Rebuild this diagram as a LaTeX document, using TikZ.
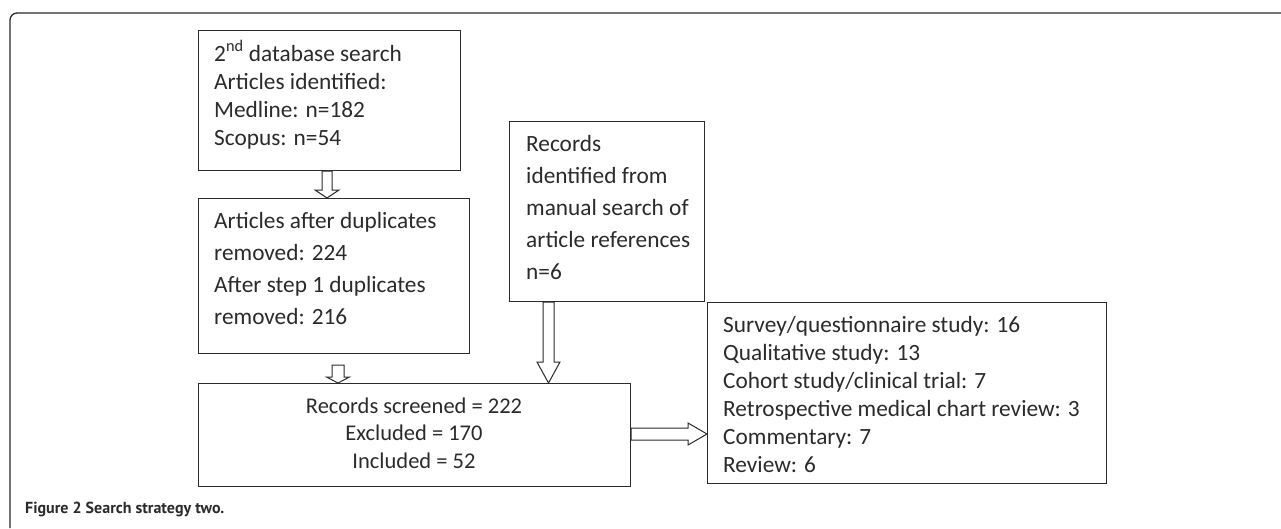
\documentclass[tikz,border=0pt]{standalone}
\usepackage{fontspec}
\setmainfont{Carlito}
\newfontfamily\capfont{PT Sans}
\usetikzlibrary{calc}
\definecolor{ink}{HTML}{2B2B2B}
\newcommand\blockdown[5]{% start, end, shaft half width, head half width, head length
  \draw[blk] ($(#1)+(-#3,0)$) -- ($(#2)+(-#3,-#5)$) -- ($(#2)+(-#4,-#5)$) -- (#2)
    -- ($(#2)+(#4,-#5)$) -- ($(#2)+(#3,-#5)$) -- ($(#1)+(#3,0)$) -- cycle;}
\newcommand\blockright[5]{%
  \draw[blk] ($(#1)+(0,-#3)$) -- ($(#2)+(-#5,-#3)$) -- ($(#2)+(-#5,-#4)$) -- (#2)
    -- ($(#2)+(-#5,#4)$) -- ($(#2)+(-#5,#3)$) -- ($(#1)+(0,#3)$) -- cycle;}
\begin{document}
\begin{tikzpicture}[x=1pt,y=-1pt,
  box/.style={draw=ink, line width=1pt, inner sep=0pt, anchor=north west},
  txt/.style={anchor=base west, inner sep=0pt, align=left, text=ink},
  blk/.style={draw=ink, line width=1pt, fill=white, line join=miter},
  frame/.style={draw=ink, line width=1.3pt, rounded corners=7pt}]
\useasboundingbox (0,0) rectangle (1281,528);
\fill[white] (0,0) rectangle (1281,528);
\draw[frame] (10,528) -- (10,13) -- (1281,13);

\node[box, minimum width=262pt, minimum height=140pt] (b1) at (198,30) {};
\node[box, minimum width=271pt, minimum height=155pt] (b2) at (198,198) {};
\node[box, minimum width=195pt, minimum height=180pt] (b3) at (509,121) {};
\node[box, minimum width=432pt, minimum height=103pt] (b4) at (198,383) {};
\node[box, minimum width=399pt, minimum height=181pt] (b5) at (707,302) {};

% base anchor = baseline of the last line
\node[txt, font=\fontsize{23.3}{28}\selectfont] (t1) at (214,145)
  {2\textsuperscript{nd} database search\\Articles identified:\\Medline: n=182\\Scopus: n=54};
\node[txt, font=\fontsize{23.3}{32}\selectfont] (t2) at (214,324)
  {Articles after duplicates\\removed: 224\\After step 1 duplicates\\removed: 216};
\node[txt, font=\fontsize{23.3}{32}\selectfont] (t3) at (526,279)
  {Records\\identified from\\manual search of\\article references\\n=6};
\node[txt, anchor=base, align=center, font=\fontsize{22.5}{27.5}\selectfont] (t4) at (414,468)
  {Records screened = 222\\Excluded = 170\\Included = 52};
\node[txt, font=\fontsize{23.3}{28}\selectfont] (t5) at (723,472)
  {Survey/questionnaire study: 16\\Qualitative study: 13\\Cohort study/clinical trial: 7\\Retrospective medical chart review: 3\\Commentary: 7\\Review: 6};

\coordinate (a1s) at ($(b1.south west)+(129,0)$);
\coordinate (a1e) at (a1s |- b2.north);
\coordinate (a2s) at ($(b2.south west)+(140,11)$);
\coordinate (a2e) at (a2s |- b4.north);
\coordinate (a3s) at ($(b3.south west)+(39.5,0)$);
\coordinate (a3e) at (a3s |- b4.north);
\coordinate (a4s) at (b4.east |- 0,434);
\coordinate (a4e) at (b5.west |- a4s);
\blockdown{a1s}{a1e}{5}{12}{8}
\blockdown{a2s}{a2e}{6}{11.5}{6}
\blockdown{a3s}{a3e}{5.5}{11.5}{21}
\blockright{a4s}{a4e}{6}{11}{19}

\node[anchor=base west, inner sep=0pt, text=ink, font=\capfont\bfseries\fontsize{16}{18}\selectfont] (cap) at (25,513) {Figure 2 Search strategy two.};
\end{tikzpicture}
\end{document}
